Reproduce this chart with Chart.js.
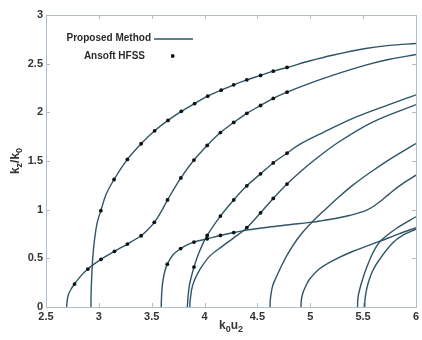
<!DOCTYPE html>
<html>
<head>
<meta charset="utf-8">
<script src="https://cdn.jsdelivr.net/npm/chart.js@4.4.1/dist/chart.umd.min.js"></script>
<style>
  html, body { margin: 0; padding: 0; background: #ffffff; }
  #wrap { width: 422px; height: 340px; position: relative; }
</style>
</head>
<body>
<div id="wrap"><canvas id="c" width="422" height="340"></canvas></div>
<script>
// Axis ticks
const xTicks = [2.5, 3, 3.5, 4, 4.5, 5, 5.5, 6];
const yTicks = [0, 0.5, 1, 1.5, 2, 2.5, 3];

// Dispersion curves (proposed method), one x/y pair per mode
const modeA_x = [2.925, 2.927, 2.932, 2.942, 2.96, 2.985, 3.019, 3.07, 3.144, 3.27, 3.40, 3.528, 3.654, 3.78, 3.906, 4.03, 4.157, 4.276, 4.40, 4.53, 4.65, 4.78, 5.0, 5.21, 5.525, 5.75, 6];
const modeA_y = [0, 0.15, 0.3, 0.5, 0.7, 0.87, 0.99, 1.16, 1.31, 1.516, 1.677, 1.81, 1.917, 2.01, 2.09, 2.166, 2.228, 2.283, 2.334, 2.379, 2.423, 2.461, 2.53, 2.587, 2.656, 2.688, 2.707];

const modeB_x = [2.695, 2.70, 2.71, 2.735, 2.77, 2.83, 2.896, 2.96, 3.02, 3.148, 3.27, 3.40, 3.46, 3.525, 3.59, 3.65, 3.776, 3.90, 4.025, 4.15, 4.276, 4.40, 4.53, 4.65, 4.78, 5.0, 5.21, 5.525, 5.75, 6];
const modeB_y = [0, 0.06, 0.12, 0.18, 0.236, 0.32, 0.39, 0.445, 0.49, 0.572, 0.647, 0.732, 0.79, 0.87, 0.98, 1.10, 1.326, 1.51, 1.66, 1.792, 1.896, 1.99, 2.07, 2.143, 2.207, 2.30, 2.38, 2.485, 2.545, 2.594];

const modeC_x = [3.59, 3.592, 3.597, 3.607, 3.625, 3.648, 3.70, 3.774, 3.84, 3.90, 4.025, 4.15, 4.276, 4.40, 4.6, 4.8, 5.02, 5.116, 5.25, 5.37, 5.525, 5.6, 5.68, 5.745, 5.85, 6];
const modeC_y = [0, 0.08, 0.18, 0.275, 0.37, 0.44, 0.535, 0.60, 0.64, 0.667, 0.70, 0.735, 0.765, 0.79, 0.82, 0.845, 0.872, 0.888, 0.912, 0.94, 0.99, 1.035, 1.10, 1.16, 1.25, 1.355];

const modeD_x = [3.837, 3.842, 3.85, 3.86, 3.87, 3.90, 3.95, 4.025, 4.15, 4.276, 4.40, 4.53, 4.65, 4.78, 4.896, 5.116, 5.43, 5.745, 6];
const modeD_y = [0, 0.08, 0.17, 0.24, 0.29, 0.41, 0.565, 0.735, 0.934, 1.10, 1.245, 1.368, 1.48, 1.58, 1.668, 1.79, 1.95, 2.08, 2.18];

const modeE_x = [3.86, 3.863, 3.87, 3.88, 3.906, 3.953, 4.047, 4.17, 4.276, 4.40, 4.53, 4.65, 4.78, 4.896, 5.04, 5.27, 5.59, 6];
const modeE_y = [0, 0.06, 0.12, 0.19, 0.28, 0.38, 0.52, 0.626, 0.71, 0.815, 0.968, 1.115, 1.263, 1.38, 1.51, 1.695, 1.90, 2.08];

const modeF_x = [4.62, 4.622, 4.63, 4.645, 4.676, 4.74, 4.80, 4.90, 5.02, 5.14, 5.27, 5.40, 5.59, 5.80, 6];
const modeF_y = [0, 0.07, 0.14, 0.22, 0.30, 0.45, 0.57, 0.73, 0.876, 1.0, 1.13, 1.25, 1.40, 1.55, 1.68];

const modeG_x = [4.912, 4.914, 4.92, 4.935, 4.96, 4.99, 5.085, 5.21, 5.40, 5.667, 5.84, 6];
const modeG_y = [0, 0.05, 0.1, 0.16, 0.22, 0.28, 0.39, 0.475, 0.57, 0.68, 0.752, 0.815];

const modeH_x = [5.447, 5.449, 5.455, 5.47, 5.494, 5.525, 5.59, 5.667, 5.84, 6];
const modeH_y = [0, 0.06, 0.12, 0.19, 0.28, 0.38, 0.55, 0.68, 0.825, 0.927];

const modeI_x = [5.515, 5.517, 5.523, 5.535, 5.557, 5.59, 5.65, 5.777, 5.88, 6];
const modeI_y = [0, 0.06, 0.12, 0.19, 0.277, 0.37, 0.48, 0.654, 0.74, 0.80];

// Full-wave reference points (Ansoft HFSS)
const hfss_x = [
  3.019, 3.144, 3.27, 3.40, 3.528, 3.654, 3.78, 3.906, 4.03, 4.157, 4.276, 4.40, 4.53, 4.65, 4.78,
  2.77, 2.896, 3.02, 3.148, 3.27, 3.40, 3.525, 3.65, 3.776, 3.90, 4.025, 4.15, 4.276, 4.40, 4.53, 4.65, 4.78,
  3.648, 3.774, 3.90, 4.025, 4.15, 4.276,
  3.90, 4.025, 4.15, 4.276, 4.40, 4.53, 4.65, 4.78,
  4.40, 4.53, 4.65, 4.78
];
const hfss_y = [
  0.99, 1.31, 1.516, 1.677, 1.81, 1.917, 2.01, 2.09, 2.166, 2.228, 2.283, 2.334, 2.379, 2.423, 2.461,
  0.236, 0.39, 0.49, 0.572, 0.647, 0.732, 0.87, 1.10, 1.326, 1.51, 1.66, 1.792, 1.896, 1.99, 2.07, 2.143, 2.207,
  0.44, 0.60, 0.667, 0.70, 0.735, 0.765,
  0.41, 0.735, 0.934, 1.10, 1.245, 1.368, 1.48, 1.58,
  0.815, 0.968, 1.115, 1.263
];

const legendLabels = ['Proposed Method', 'Ansoft HFSS'];

const curveColor = '#2c5566';
const frameColor = '#a8bed2';
const textColor = '#333333';

const modes = [
  [modeA_x, modeA_y], [modeB_x, modeB_y], [modeC_x, modeC_y],
  [modeD_x, modeD_y], [modeE_x, modeE_y], [modeF_x, modeF_y],
  [modeG_x, modeG_y], [modeH_x, modeH_y], [modeI_x, modeI_y]
];

const toPoints = (xs, ys) => xs.map((x, i) => ({ x: x, y: ys[i] }));

const datasets = modes.map(([xs, ys]) => ({
  data: toPoints(xs, ys),
  showLine: true,
  borderColor: curveColor,
  borderWidth: 1.4,
  pointRadius: 0,
  tension: 0.35,
  fill: false,
  order: 1
}));

datasets.push({
  data: toPoints(hfss_x, hfss_y),
  showLine: false,
  pointRadius: 1.9,
  pointBackgroundColor: '#111111',
  pointBorderColor: '#111111',
  pointBorderWidth: 0,
  order: -1
});

// Box frame with inward ticks on all four sides
const framePlugin = {
  id: 'frame',
  afterDatasetsDraw(chart) {
    const { ctx, chartArea: a, scales } = chart;
    ctx.save();
    ctx.strokeStyle = frameColor;
    ctx.lineWidth = 1;
    ctx.strokeRect(Math.round(a.left) + 0.5, Math.round(a.top) + 0.5,
                   Math.round(a.right - a.left), Math.round(a.bottom - a.top));
    const tl = 4;
    ctx.beginPath();
    xTicks.forEach(v => {
      const px = Math.round(scales.x.getPixelForValue(v)) + 0.5;
      ctx.moveTo(px, a.bottom); ctx.lineTo(px, a.bottom - tl);
      ctx.moveTo(px, a.top); ctx.lineTo(px, a.top + tl);
    });
    yTicks.forEach(v => {
      const py = Math.round(scales.y.getPixelForValue(v)) + 0.5;
      ctx.moveTo(a.left, py); ctx.lineTo(a.left + tl, py);
      ctx.moveTo(a.right, py); ctx.lineTo(a.right - tl, py);
    });
    ctx.stroke();
    ctx.restore();
  }
};

// Draws text with subscripts: parts = [[text, isSub], ...]
function drawSubText(ctx, parts, x, y, mainSize, subSize) {
  const mainFont = 'bold ' + mainSize + 'px "Liberation Sans", Arial, sans-serif';
  const subFont = 'bold ' + subSize + 'px "Liberation Sans", Arial, sans-serif';
  let total = 0;
  parts.forEach(([t, sub]) => { ctx.font = sub ? subFont : mainFont; total += ctx.measureText(t).width; });
  let cx = x - total / 2;
  parts.forEach(([t, sub]) => {
    ctx.font = sub ? subFont : mainFont;
    ctx.fillText(t, cx, sub ? y + 3 : y);
    cx += ctx.measureText(t).width;
  });
}

const titlesPlugin = {
  id: 'titles',
  afterDraw(chart) {
    const { ctx, chartArea: a } = chart;
    ctx.save();
    ctx.fillStyle = textColor;
    ctx.textBaseline = 'alphabetic';
    ctx.textAlign = 'left';
    // x-axis title
    drawSubText(ctx, [['k', false], ['0', true], ['u', false], ['2', true]],
                (a.left + a.right) / 2, 329, 12, 9);
    // y-axis title
    ctx.translate(19, (a.top + a.bottom) / 2);
    ctx.rotate(-Math.PI / 2);
    drawSubText(ctx, [['k', false], ['z', true], ['/k', false], ['0', true]], 0, 0, 12, 9);
    ctx.restore();

    // legend
    ctx.save();
    ctx.fillStyle = '#2b2b2b';
    ctx.font = 'bold 10px "Liberation Sans", Arial, sans-serif';
    ctx.textAlign = 'right';
    ctx.textBaseline = 'middle';
    ctx.fillText(legendLabels[0], 151, 38);
    ctx.fillText(legendLabels[1], 145, 56);
    ctx.strokeStyle = curveColor;
    ctx.lineWidth = 1.4;
    ctx.beginPath();
    ctx.moveTo(154, 39); ctx.lineTo(193, 39);
    ctx.stroke();
    ctx.fillStyle = '#111111';
    ctx.beginPath();
    ctx.arc(172.7, 56, 1.9, 0, Math.PI * 2);
    ctx.fill();
    ctx.restore();
  }
};

new Chart(document.getElementById('c'), {
  type: 'scatter',
  data: { datasets: datasets },
  options: {
    responsive: false,
    animation: false,
    events: [],
    layout: { padding: { top: 15, right: 5, left: 0, bottom: 0 } },
    plugins: { legend: { display: false }, tooltip: { enabled: false } },
    scales: {
      x: {
        type: 'linear', min: 2.5, max: 6,
        afterFit: s => { s.height = 33; },
        afterBuildTicks: s => { s.ticks = xTicks.map(v => ({ value: v })); },
        grid: { display: false, drawTicks: false },
        border: { display: false },
        ticks: {
          padding: 3,
          color: textColor,
          font: { family: '"Liberation Sans", Arial, sans-serif', size: 11, weight: 'bold' },
          callback: v => String(v)
        }
      },
      y: {
        type: 'linear', min: 0, max: 3,
        afterFit: s => { s.width = 46; },
        afterBuildTicks: s => { s.ticks = yTicks.map(v => ({ value: v })); },
        grid: { display: false, drawTicks: false },
        border: { display: false },
        ticks: {
          padding: 3,
          color: textColor,
          font: { family: '"Liberation Sans", Arial, sans-serif', size: 11, weight: 'bold' },
          callback: v => String(v)
        }
      }
    }
  },
  plugins: [framePlugin, titlesPlugin]
});
</script>
</body>
</html>
